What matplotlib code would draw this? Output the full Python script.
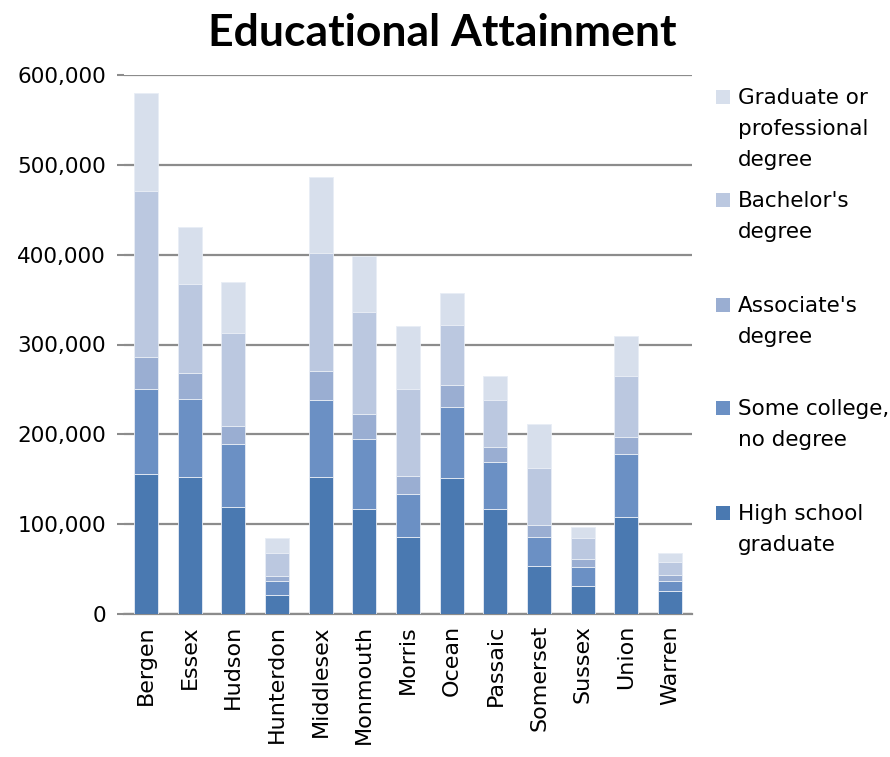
import matplotlib.pyplot as plt
from matplotlib.patches import Rectangle
from matplotlib.ticker import FuncFormatter
import numpy as np

# county-level counts (persons), stacked from bottom to top
counties = ["Bergen", "Essex", "Hudson", "Hunterdon", "Middlesex", "Monmouth",
            "Morris", "Ocean", "Passaic", "Somerset", "Sussex", "Union", "Warren"]
high_school = [156000, 152000, 119000, 21500, 153000, 117000, 86000, 151000, 117000, 53000, 31600, 108000, 26000]
some_college = [94000, 87000, 70000, 15000, 85000, 78000, 48000, 79000, 52000, 33000, 21000, 70000, 11000]
associate = [36000, 29000, 20000, 6000, 33000, 28000, 20000, 25000, 17000, 13000, 9000, 19000, 6400]
bachelor = [185000, 99000, 104000, 25000, 131000, 113000, 97000, 67000, 52000, 63000, 23000, 68000, 15000]
graduate = [109000, 64000, 57000, 17000, 84000, 62000, 70000, 35000, 27000, 49000, 12000, 44000, 9000]

series_names = ["High school\ngraduate", "Some college,\nno degree", "Associate's\ndegree",
                "Bachelor's\ndegree", "Graduate or\nprofessional\ndegree"]
series = [high_school, some_college, associate, bachelor, graduate]
colors = ["#4a79b1", "#6b90c4", "#9aaed2", "#bbc8e0", "#d7dfec"]

plt.rcParams['font.family'] = ['DejaVu Sans']

fig = plt.figure(figsize=(8.9, 7.57), dpi=100)
ax = fig.add_axes([124 / 890, 1 - 614 / 757, (692 - 124) / 890, (614 - 75) / 757])

x = np.arange(len(counties))
bottom = np.zeros(len(counties))
for vals, col in zip(series, colors):
    ax.bar(x, vals, width=0.55, bottom=bottom, color=col, edgecolor="#e8edf5",
           linewidth=0.6, zorder=3)
    bottom += np.array(vals)

ax.set_xlim(-0.5, len(counties) - 0.5)
ax.set_ylim(0, 600000)
ax.set_yticks(np.arange(0, 600001, 100000))
ax.yaxis.set_major_formatter(FuncFormatter(lambda v, p: f"{int(v):,}"))
ax.set_xticks(x)
ax.set_xticklabels(counties, rotation=90, fontsize=16)
ax.tick_params(axis="y", labelsize=15.5, length=5, width=1.5, color="#8c8c8c", pad=8)
ax.tick_params(axis="x", length=0, pad=8)
ax.grid(axis="y", color="#8c8c8c", linewidth=1.6, zorder=0)

for side in ["left", "right", "top"]:
    ax.spines[side].set_visible(False)
ax.spines["bottom"].set_color("#8c8c8c")
ax.spines["bottom"].set_linewidth(1.6)

fig.text(442 / 890, 1 - 33 / 757, "Educational Attainment", ha="center", va="center",
         fontsize=32, fontweight="bold", family=["Lato", "DejaVu Sans"])

# legend, top entry is the last series
entry_tops = [97, 200, 305, 408, 513]
for top_px, name, col in zip(entry_tops, series_names[::-1], colors[::-1]):
    fig.patches.append(Rectangle((716 / 890, 1 - (top_px + 7) / 757), 14 / 890, 14 / 757,
                                 transform=fig.transFigure, facecolor=col, edgecolor="none"))
    fig.text(738 / 890, 1 - (top_px - 9) / 757, name, ha="left", va="top",
             fontsize=15.5, linespacing=1.68)

fig.savefig("out.png", dpi=100)
